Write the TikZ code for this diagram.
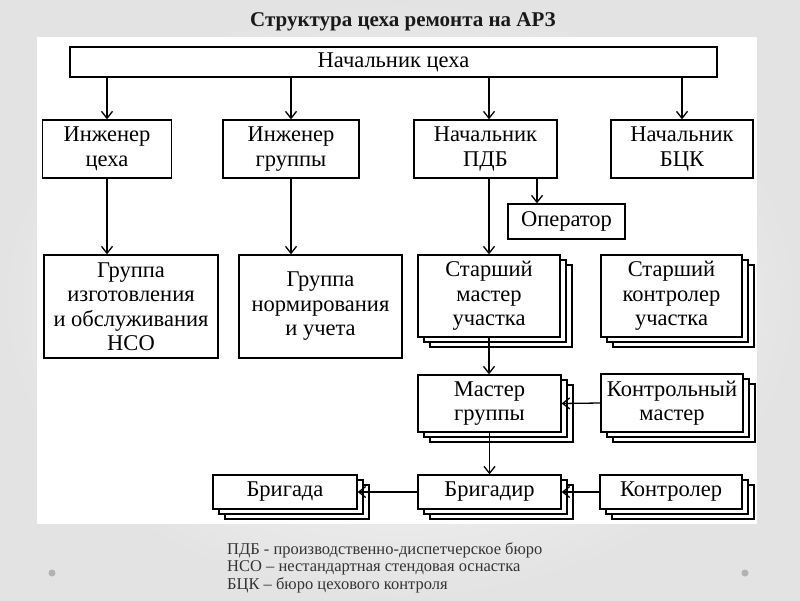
\documentclass[tikz,border=0pt]{standalone}
\usepackage{fontspec}
\setmainfont{Liberation Serif}
\usetikzlibrary{arrows.meta,shadows}
\begin{document}
\begin{tikzpicture}[x=1pt,y=-1pt,
  box/.style={draw=black, fill=white, line width=1.3pt, align=center, inner sep=0pt,
    font=\fontsize{22.5}{24.5}\selectfont},
  stackbox/.style={box, double copy shadow={shadow xshift=6pt, shadow yshift=-5pt}},
  arr/.style={line width=1.3pt, -{Straight Barb[length=7pt,width=11pt,line width=1.3pt]}}
]
\shade[inner color=white, outer color=gray!22] (0,0) rectangle (800,600);
\useasboundingbox (0,0) rectangle (800,600);
\fill[white] (37,37) rectangle (757,524);

\node[font=\bfseries\fontsize{21}{24}\selectfont, text=black!90, anchor=base] (title) at (403,26) {Структура цеха ремонта на АРЗ};

\node[box, minimum width=647pt, minimum height=30pt] (top) at (393.5,62) {Начальник цеха};

\node[box, minimum width=129pt, minimum height=58pt] (ic) at (107,149) {Инженер\\цеха};
\node[box, minimum width=136pt, minimum height=58pt] (ig) at (291,149) {Инженер\\группы};
\node[box, minimum width=143pt, minimum height=58pt] (pdb) at (485.5,149) {Начальник\\ПДБ};
\node[box, minimum width=142pt, minimum height=58pt] (bck) at (682,149) {Начальник\\БЦК};
\node[box, minimum width=117pt, minimum height=35pt] (op) at (566.5,221.5) {Оператор};

\node[box, minimum width=174pt, minimum height=103pt] (gi) at (131,306.5) {Группа\\изготовления\\и обслуживания\\НСО};
\node[box, minimum width=163pt, minimum height=103pt] (gn) at (320.5,306.5) {Группа\\нормирования\\и учета};
\node[stackbox, minimum width=142pt, minimum height=82pt] (sm) at (489,296) {Старший\\мастер\\участка};
\node[stackbox, minimum width=141pt, minimum height=82pt] (sk) at (671.5,296) {Старший\\контролер\\участка};

\node[stackbox, minimum width=143pt, minimum height=57pt] (mg) at (489.5,403.5) {Мастер\\группы};
\node[stackbox, minimum width=142pt, minimum height=58pt] (km) at (672,403) {Контрольный\\мастер};

\node[stackbox, minimum width=143pt, minimum height=34pt] (brg) at (489.5,492) {Бригадир};
\node[stackbox, minimum width=142pt, minimum height=34pt] (ktr) at (671,492) {Контролер};
\node[stackbox, minimum width=144pt, minimum height=34pt] (bga) at (285,492) {Бригада};

\coordinate (opx) at (537,0);

\draw[arr] (top.south -| ic.north) -- (ic.north);
\draw[arr] (top.south -| ig.north) -- (ig.north);
\draw[arr] (top.south -| sm.north) -- (pdb.north -| sm.north);
\draw[arr] (top.south -| bck.north) -- (bck.north);

\draw[arr] (ic.south) -- (ic.south |- gi.north);
\draw[arr] (ig.south) -- (ig.south |- gn.north);
\draw[arr] (pdb.south -| sm.north) -- (sm.north);
\draw[arr] (pdb.south -| opx) -- (op.north -| opx);

\draw[arr] (sm.south) -- (sm.south |- mg.north);
\draw[arr] (mg.south) -- (mg.south |- brg.north);
\draw[arr] (km.west) -- (mg.east);
\draw[arr] (ktr.west) -- (brg.east);
\draw[arr] (brg.west) -- (bga.east);

\node[anchor=base west, align=left, inner sep=0pt, text=black!80,
  font=\fontsize{16.5}{17.5}\selectfont] (notes) at (227,589)
  {ПДБ - производственно-диспетчерское бюро\\НСО – нестандартная стендовая оснастка\\БЦК – бюро цехового контроля};

\fill[gray!60] (52,573) circle (3.5pt);
\fill[gray!60] (745,573) circle (3.5pt);
\end{tikzpicture}
\end{document}
